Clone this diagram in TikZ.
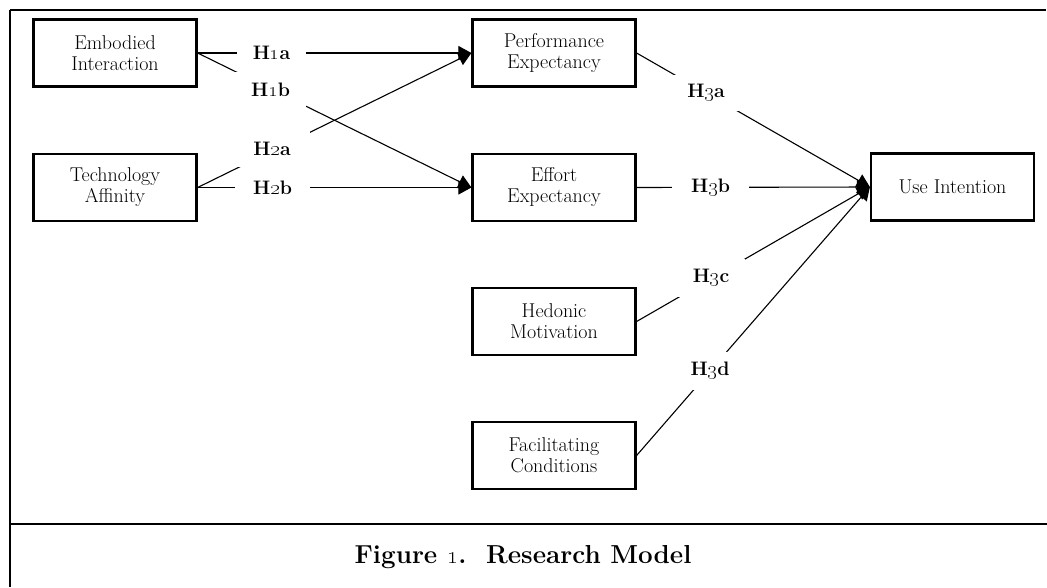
\documentclass[tikz,border=0pt]{standalone}
\usetikzlibrary{arrows.meta,backgrounds}
\begin{document}
\begin{tikzpicture}[x=1pt,y=-1pt,
  box/.style={draw,line width=2.2pt,minimum width=163pt,minimum height=67pt,inner sep=0pt,align=center,font=\fontsize{20}{21}\selectfont},
  lab/.style={fill=white,inner sep=0pt,font=\fontsize{19.5}{21}\selectfont\bfseries},
  conn/.style={line width=1.1pt,-{Triangle[length=13pt,width=14pt]}},
  frame/.style={line width=2pt}]
\useasboundingbox (0,0) rectangle (1047,587);
% frame
\coordinate (tl) at (10,10);
\coordinate (tr) at (1046,10);
\coordinate (bl) at (10,587);
\coordinate (sl) at (10,524);
\coordinate (sr) at (1047,524);
\draw[frame] (bl) -- (tl);
\draw[line width=1.5pt] (tl) -- (tr);
\draw[line width=2.6pt] (sl) -- (sr);
\node[font=\fontsize{26}{28}\selectfont\bfseries] (cap) at (523,557) {Figure \oldstylenums{1}.\ \ Research Model};
% boxes
\node[box] (ei) at (115,53) {Embodied\\Interaction};
\node[box] (ta) at (115,187.5) {Technology\\Affinity};
\node[box] (pe) at (554,53) {Performance\\Expectancy};
\node[box] (ee) at (554,187.5) {Effort\\Expectancy};
\node[box] (hm) at (554,321.5) {Hedonic\\Motivation};
\node[box] (fc) at (554,455.5) {Facilitating\\Conditions};
\node[box] (ui) at (952.5,187) {Use Intention};
% labels
\node[lab,minimum width=69pt,minimum height=20pt] (h1a) at (271.5,53) {H\oldstylenums{1}a};
\node[lab,minimum width=71pt,minimum height=36pt] (h1b) at (270.5,89.5) {H\oldstylenums{1}b};
\node[lab,minimum width=75pt,minimum height=36pt] (h2a) at (272,149) {H\oldstylenums{2}a};
\node[lab,minimum width=75pt,minimum height=20pt] (h2b) at (272.5,187.5) {H\oldstylenums{2}b};
\node[lab,minimum width=66pt,minimum height=36pt] (h3a) at (706,93) {H\oldstylenums{3}a};
\node[lab,minimum width=77pt,minimum height=20pt] (h3b) at (710.5,187.5) {H\oldstylenums{3}b};
\node[lab,minimum width=68pt,minimum height=38pt] (h3c) at (711,278) {H\oldstylenums{3}c};
\node[lab,minimum width=33pt,minimum height=38pt] (h3d) at (710,371) {H\oldstylenums{3}d};
% connectors
\begin{pgfonlayer}{background}
\draw[conn] (ei.east) -- (pe.west);
\draw[conn] (ei.east) -- (ee.west);
\draw[conn] (ta.east) -- (pe.west);
\draw[conn] (ta.east) -- (ee.west);
\draw[conn] (pe.east) -- (ui.west);
\draw[conn] (ee.east) -- (ui.west);
\draw[conn] (hm.east) -- (ui.west);
\draw[conn] (fc.east) -- (ui.west);
\end{pgfonlayer}
\end{tikzpicture}
\end{document}
